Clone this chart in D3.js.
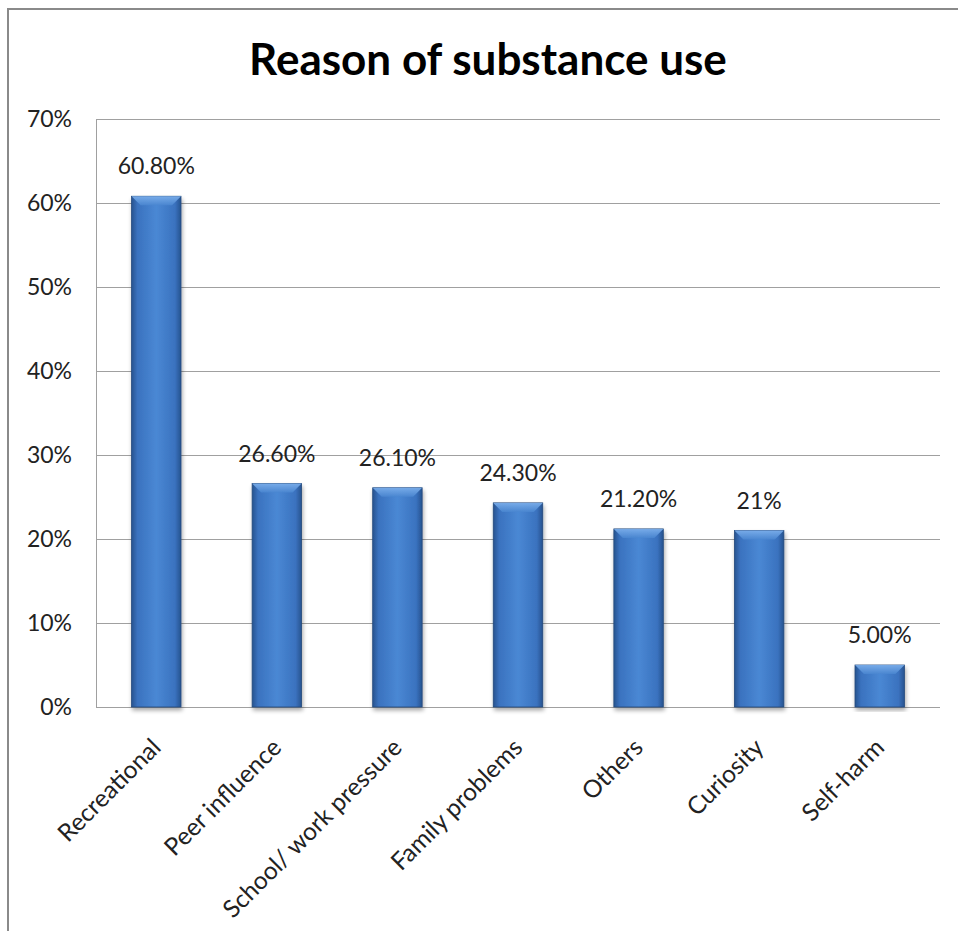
<!DOCTYPE html>
<html><head><meta charset="utf-8">
<script src="https://cdn.jsdelivr.net/npm/d3@7"></script>
<style>html,body{margin:0;padding:0;background:#fff;}svg{display:block;}</style>
</head><body>
<script>
const categories = ["Recreational","Peer influence","School/ work pressure","Family problems","Others","Curiosity","Self-harm"];
const values = [60.8, 26.6, 26.1, 24.3, 21.2, 21.0, 5.0];
const valueLabels = ["60.80%","26.60%","26.10%","24.30%","21.20%","21%","5.00%"];
const yTicks = [0,10,20,30,40,50,60,70];
const title = "Reason of substance use";

const W = 958, H = 931;
const m = {left:96, right:18, top:119, bottom:224};
const font = "Lato, 'Open Sans', sans-serif";

const svg = d3.select("body").append("svg").attr("width",W).attr("height",H);
const defs = svg.append("defs");
const g1 = defs.append("linearGradient").attr("id","barH").attr("x1","0").attr("x2","1").attr("y1","0").attr("y2","0");
[["0%","#27538f"],["12%","#3a72bf"],["50%","#4a88d4"],["88%","#3a72bf"],["100%","#27538f"]].forEach(s=>g1.append("stop").attr("offset",s[0]).attr("stop-color",s[1]));
const g2 = defs.append("linearGradient").attr("id","bev").attr("x1","0").attr("x2","0").attr("y1","0").attr("y2","1");
[["0%","#7db0ec"],["100%","#4a86d0"]].forEach(s=>g2.append("stop").attr("offset",s[0]).attr("stop-color",s[1]));
const f = defs.append("filter").attr("id","sh").attr("x","-20%").attr("y","-5%").attr("width","140%").attr("height","115%");
f.append("feGaussianBlur").attr("in","SourceAlpha").attr("stdDeviation",2);
f.append("feOffset").attr("dx",1).attr("dy",3).attr("result","b");
f.append("feComponentTransfer").append("feFuncA").attr("type","linear").attr("slope",0.35);
const mg = f.append("feMerge"); mg.append("feMergeNode"); mg.append("feMergeNode").attr("in","SourceGraphic");

// frame
svg.append("path").attr("d",`M8,${H} L8,9 L${W},9`).attr("fill","none").attr("stroke","#8a8a8a").attr("stroke-width",2);

const x = d3.scaleBand().domain(categories).range([m.left, W-m.right]).paddingInner(0.59).paddingOuter(0.295);
const y = d3.scaleLinear().domain([0,70]).range([H-m.bottom, m.top]);

// gridlines
svg.append("g").selectAll("line").data(yTicks.filter(t=>t>0)).join("line")
  .attr("x1",m.left).attr("x2",W-m.right).attr("y1",d=>y(d)+0.5).attr("y2",d=>y(d)+0.5)
  .attr("stroke","#a0a0a0").attr("stroke-width",1);

// y axis
const ya = svg.append("g").attr("transform",`translate(${m.left},0)`)
  .call(d3.axisLeft(y).tickValues(yTicks).tickFormat(d=>d+"%").tickSize(0).tickPadding(24));
ya.select(".domain").attr("stroke","#a0a0a0");
ya.selectAll("text").attr("font-family",font).attr("font-size",23).attr("fill","#222");

// x axis baseline
svg.append("line").attr("x1",m.left).attr("x2",W-m.right).attr("y1",y(0)+0.5).attr("y2",y(0)+0.5).attr("stroke","#a0a0a0");

// bars
const bars = svg.append("g").selectAll("g").data(categories).join("g").attr("filter","url(#sh)");
bars.append("rect").attr("x",d=>x(d)).attr("y",(d,i)=>y(values[i])).attr("width",x.bandwidth())
  .attr("height",(d,i)=>y(0)-y(values[i])).attr("fill","url(#barH)").attr("stroke","#24497c").attr("stroke-width",0.8);
// top bevel
bars.append("path").attr("d",(d,i)=>{const x0=x(d),x1=x0+x.bandwidth(),t=y(values[i]),b=9;
  return `M${x0},${t} L${x1},${t} L${x1-b},${t+b} L${x0+b},${t+b} Z`;}).attr("fill","url(#bev)").attr("opacity",0.9);

// value labels
svg.append("g").selectAll("text").data(categories).join("text")
  .attr("x",d=>x(d)+x.bandwidth()/2).attr("y",(d,i)=>y(values[i])-22)
  .attr("text-anchor","middle").attr("font-family",font).attr("font-size",23).attr("fill","#222")
  .text((d,i)=>valueLabels[i]);

// x labels
svg.append("g").selectAll("text").data(categories).join("text")
  .attr("transform",d=>`translate(${x(d)+x.bandwidth()/2+6},${y(0)+42}) rotate(-45)`)
  .attr("text-anchor","end").attr("font-family",font).attr("font-size",24.5).attr("fill","#222")
  .text(d=>d);

// title
svg.append("text").attr("x",488).attr("y",75).attr("text-anchor","middle")
  .attr("font-family",font).attr("font-weight","bold").attr("font-size",44).attr("fill","#000").text(title);
</script>
</body></html>
